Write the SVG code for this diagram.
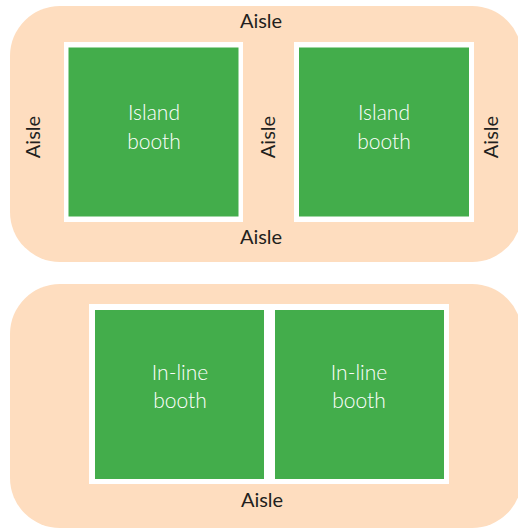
<svg xmlns="http://www.w3.org/2000/svg" width="518" height="529" viewBox="0 0 518 529">
<style>
.aisle-bg{fill:#FEDDBF}
.frame{fill:#FFFFFF}
.booth{fill:#43AD4B}
.lbl{font-family:Lato,"Open Sans",sans-serif;font-size:20px;fill:#231F20;text-anchor:middle}
.btxt{font-family:Lato,"Open Sans",sans-serif;font-size:21px;font-weight:300;fill:#FFFFFF;text-anchor:middle}
</style>
<rect width="518" height="529" fill="#FFFFFF"/>
<g id="island-area">
<rect class="aisle-bg" x="10" y="6" width="512" height="256" rx="50" ry="50"/>
<text class="lbl" x="261" y="28">Aisle</text>
<text class="lbl" x="261" y="244">Aisle</text>
<text class="lbl" transform="translate(40,137) rotate(-90)">Aisle</text>
<text class="lbl" transform="translate(275,137) rotate(-90)">Aisle</text>
<text class="lbl" transform="translate(498,137) rotate(-90)">Aisle</text>
</g>
<g id="island-booth-1">
<rect class="frame" x="64" y="42" width="179" height="180"/>
<rect class="booth" x="68.5" y="47.5" width="170" height="169"/>
<text class="btxt" x="154" y="120">Island</text>
<text class="btxt" x="154" y="149">booth</text>
</g>
<g id="island-booth-2">
<rect class="frame" x="294" y="42" width="180" height="180"/>
<rect class="booth" x="299" y="47.5" width="170" height="169"/>
<text class="btxt" x="384" y="120">Island</text>
<text class="btxt" x="384" y="149">booth</text>
</g>
<g id="inline-area">
<rect class="aisle-bg" x="10" y="284" width="512" height="244" rx="50" ry="50"/>
<rect class="frame" x="89" y="304" width="360" height="180"/>
<text class="lbl" x="262" y="507">Aisle</text>
</g>
<g id="inline-booth-1">
<rect class="booth" x="95" y="310" width="169" height="169"/>
<text class="btxt" x="180" y="380">In-line</text>
<text class="btxt" x="180" y="408">booth</text>
</g>
<g id="inline-booth-2">
<rect class="booth" x="275" y="310" width="169" height="169"/>
<text class="btxt" x="359" y="380">In-line</text>
<text class="btxt" x="359" y="408">booth</text>
</g>
</svg>
